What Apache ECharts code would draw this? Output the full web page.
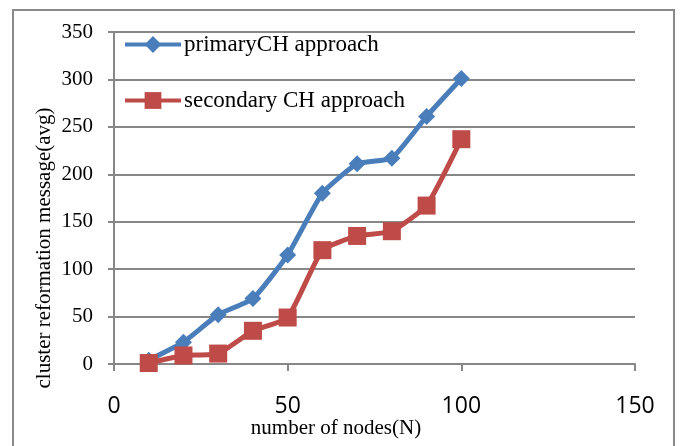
<!doctype html>
<html>
<head>
<meta charset="utf-8">
<title>cluster reformation</title>
<script src="https://cdn.jsdelivr.net/npm/echarts@6/dist/echarts.min.js"></script>
<style>
  html, body { margin: 0; padding: 0; background: #fff; }
  #chart { width: 680px; height: 446px; }
</style>
</head>
<body>
<div id="chart"></div>
<script>
// data
var nodes = [10, 20, 30, 40, 50, 60, 70, 80, 90, 100];
var primaryCH = [4, 23, 52, 69, 115, 180, 211, 217, 261, 301];
var secondaryCH = [1, 9, 11, 35, 49, 120, 135, 140, 167, 237];
var seriesNames = ['primaryCH approach', 'secondary CH approach'];
var xName = 'number of nodes(N)';
var yName = 'cluster reformation message(avg)';

function pairs(xs, ys) {
    var out = [];
    for (var i = 0; i < xs.length; i++) out.push([xs[i], ys[i]]);
    return out;
}

var myChart = echarts.init(document.getElementById('chart'));
var gridColor = '#878787';
var serif = 'Liberation Serif';
var option = {
    animation: false,
    graphic: [
        {
            type: 'rect',
            shape: { x: 13, y: 10, width: 661, height: 460 },
            style: { fill: 'none', stroke: '#8a8a8a', lineWidth: 2 }
        },
        {
            // y axis title, sits a bit lower than the axis middle
            type: 'text',
            x: 44, y: 248,
            rotation: Math.PI / 2,
            style: { text: yName, font: '21px ' + serif, fill: '#000', align: 'center', verticalAlign: 'middle' }
        },
        {
            type: 'text',
            x: 336, y: 428,
            style: { text: xName, font: '21px ' + serif, fill: '#000', align: 'center', verticalAlign: 'middle' }
        }
    ],
    grid: { left: 114, right: 45, top: 32, bottom: 82 },
    legend: {
        orient: 'vertical',
        left: 118,
        top: 28,
        itemGap: 33,
        itemWidth: 56,
        itemHeight: 21,
        lineStyle: { width: 4 },
        textStyle: { fontFamily: serif, fontSize: 23, color: '#000', padding: [0, 0, 0, -2] },
        data: seriesNames
    },
    xAxis: {
        type: 'value',
        min: 0, max: 150, interval: 50,
        axisLine: { show: true, lineStyle: { color: gridColor, width: 2 } },
        axisTick: { show: true, length: 7, lineStyle: { color: gridColor, width: 2 } },
        axisLabel: { fontFamily: 'Open Sans', fontSize: 23, color: '#000', margin: 31 },
        splitLine: { show: false }
    },
    yAxis: {
        type: 'value',
        min: 0, max: 350, interval: 50,
        axisLine: { show: true, lineStyle: { color: gridColor, width: 2 } },
        axisTick: { show: true, length: 6, lineStyle: { color: gridColor, width: 2 } },
        axisLabel: { fontFamily: serif, fontSize: 21, color: '#000', margin: 21 },
        splitLine: { show: true, lineStyle: { color: gridColor, width: 2 } }
    },
    series: [
        {
            name: seriesNames[0],
            type: 'line',
            smooth: 0.15,
            data: pairs(nodes, primaryCH),
            symbol: 'diamond',
            symbolSize: 17,
            itemStyle: { color: '#4a7ebb' },
            lineStyle: { color: '#4a7ebb', width: 5 }
        },
        {
            name: seriesNames[1],
            type: 'line',
            smooth: 0.15,
            data: pairs(nodes, secondaryCH),
            symbol: 'rect',
            symbolSize: 18,
            itemStyle: { color: '#be4b48' },
            lineStyle: { color: '#be4b48', width: 5 }
        }
    ]
};
myChart.setOption(option);
</script>
</body>
</html>
